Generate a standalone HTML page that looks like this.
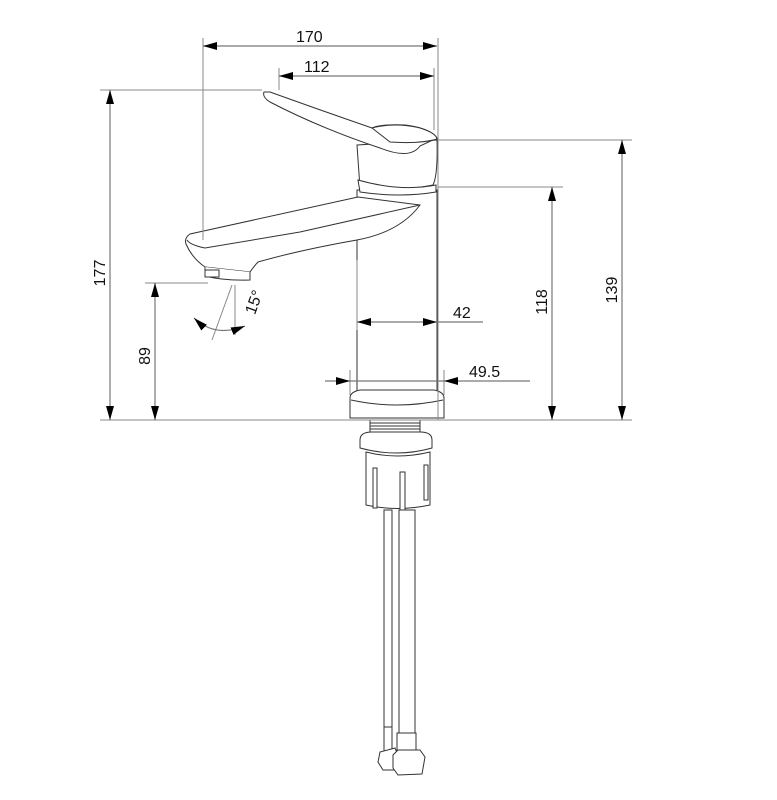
<!DOCTYPE html>
<html><head><meta charset="utf-8"><style>
html,body{margin:0;padding:0;background:#fff;}
svg{display:block;}
text{font-family:"Liberation Sans",sans-serif;font-size:16px;fill:#111;}
</style></head><body>
<svg width="777" height="800" viewBox="0 0 777 800" xmlns="http://www.w3.org/2000/svg">
<defs>
<marker id="a" viewBox="0 0 14 8" refX="14" refY="4" markerWidth="14" markerHeight="8" markerUnits="userSpaceOnUse" orient="auto-start-reverse"><path d="M0,0L14,4L0,8Z" fill="#000"/></marker>
</defs>
<!-- faucet -->
<g stroke="#333" stroke-width="1" fill="#fff">
<rect x="357" y="190" width="80" height="205" fill="#fff"/>
<path d="M357,145 L437,140 Q438,175 433,185 Q400,192 360,188 Z"/>
<path d="M358,180 Q400,192 436,185 L436,192 Q400,198 360,192 Z"/>
<path d="M264,92 Q262,97 270,102 Q320,128 380,148 Q410,160 420,146 L437,138 Q430,128 405,125 Q380,124 372,128 Q320,110 270,92 Z"/>
<path d="M372,128 Q395,122 420,128 Q436,133 437,139 Q420,144 390,142 Z"/>
<path d="M358,197 L190,234 Q184,238 186,244 Q192,258 205,267 L250,272 Q255,265 258,262 Q300,250 357,240 Q400,232 420,205 L358,197 Z"/>
<path d="M187,240 Q190,245 205,248 L300,232 L420,205"/>
<path d="M205,267 L205,276 Q225,281 250,280 L250,272"/>
<rect x="205" y="270" width="14" height="7"/>
<path d="M350,398 Q350,392 360,390 L434,390 Q444,392 444,398 L444,418 L350,418 Z"/>
<path d="M351,400 Q397,410 443,400"/>
<rect x="370" y="420" width="50" height="14"/>
<line x1="370" y1="423" x2="420" y2="423"/><line x1="370" y1="426" x2="420" y2="426"/><line x1="370" y1="429" x2="420" y2="429"/>
<path d="M360,440 Q360,432 372,432 L420,432 Q432,432 432,440 L432,448 Q397,458 360,448 Z"/>
<path d="M366,452 L366,505 Q397,512 430,505 L430,452 Q397,460 366,452 Z"/>
<rect x="373" y="468" width="4" height="40"/>
<rect x="400" y="472" width="5" height="40"/>
<rect x="424" y="465" width="4" height="35"/>
<rect x="384" y="510" width="8" height="228"/>
<rect x="399" y="510" width="16" height="235"/>
<path d="M384,727 L392,727 L392,752 L384,752 Z"/>
<path d="M380,752 L395,748 L400,760 L398,770 L383,770 L378,762 Z"/>
<path d="M397,733 L416,733 L416,752 L397,752 Z"/>
<path d="M393,755 L398,750 L420,750 L425,757 L422,774 L398,775 L393,768 Z"/>
</g>
<g stroke="#888" stroke-width="1" fill="none">
<line x1="203" y1="38" x2="203" y2="240"/>
<line x1="438" y1="38" x2="438" y2="420"/>
<line x1="279" y1="68" x2="279" y2="90"/>
<line x1="434" y1="68" x2="434" y2="130"/>
<line x1="100" y1="90" x2="262" y2="90"/>
<line x1="100" y1="420" x2="632" y2="420"/>
<line x1="145" y1="283" x2="208" y2="283"/>
<line x1="438" y1="187" x2="563" y2="187"/>
<line x1="438" y1="140" x2="632" y2="140"/>
<line x1="357" y1="260" x2="357" y2="330"/>
<line x1="350" y1="370" x2="350" y2="395"/>
<line x1="444" y1="370" x2="444" y2="395"/>
<line x1="235" y1="285" x2="235" y2="335"/>
<line x1="232" y1="285" x2="212" y2="340"/>
</g>
<g stroke="#777" stroke-width="1.2" fill="none">
<line x1="203" y1="46" x2="437" y2="46" marker-start="url(#a)" marker-end="url(#a)"/>
<line x1="279" y1="76" x2="434" y2="76" marker-start="url(#a)" marker-end="url(#a)"/>
<line x1="110" y1="90" x2="110" y2="420" marker-start="url(#a)" marker-end="url(#a)"/>
<line x1="155" y1="283" x2="155" y2="420" marker-start="url(#a)" marker-end="url(#a)"/>
<line x1="552" y1="187" x2="552" y2="420" marker-start="url(#a)" marker-end="url(#a)"/>
<line x1="622" y1="140" x2="622" y2="420" marker-start="url(#a)" marker-end="url(#a)"/>
<line x1="357" y1="322" x2="437" y2="322" marker-start="url(#a)" marker-end="url(#a)"/>
<line x1="437" y1="322" x2="483" y2="322"/>
<line x1="325" y1="381" x2="350" y2="381" marker-end="url(#a)"/>
<line x1="350" y1="381" x2="444" y2="381"/>
<line x1="530" y1="381" x2="444" y2="381" marker-end="url(#a)"/>
<path d="M194,318 Q215,338 245,326" marker-start="url(#a)" marker-end="url(#a)"/>
</g>
<text x="296" y="42">170</text>
<text x="304" y="72">112</text>
<text x="453" y="318">42</text>
<text x="469" y="377">49.5</text>
<text transform="translate(105,273) rotate(-90)" text-anchor="middle">177</text>
<text transform="translate(150,356) rotate(-90)" text-anchor="middle">89</text>
<text transform="translate(547,302) rotate(-90)" text-anchor="middle">118</text>
<text transform="translate(617,290) rotate(-90)" text-anchor="middle">139</text>
<text transform="translate(259,304) rotate(-70)" text-anchor="middle">15°</text>
</svg>
</body></html>
